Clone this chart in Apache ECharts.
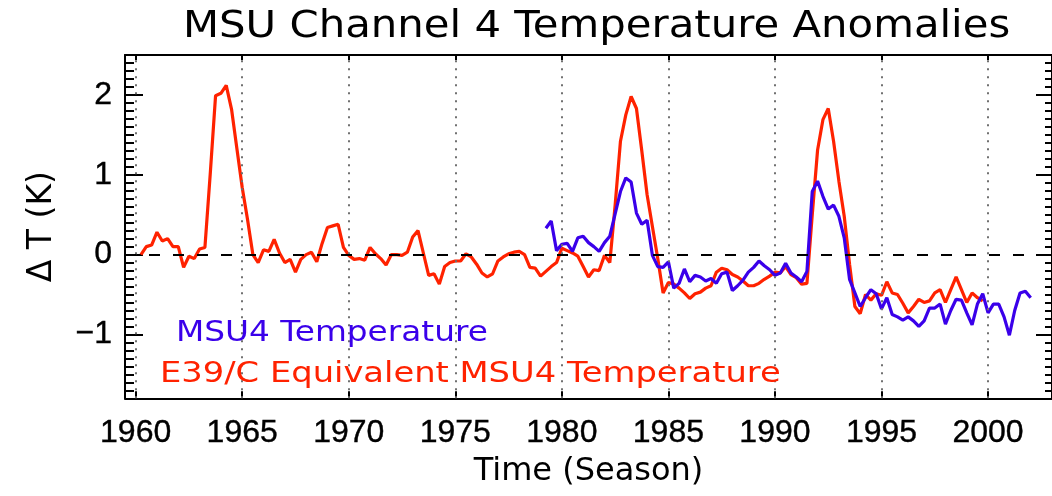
<!DOCTYPE html>
<html><head><meta charset="utf-8">
<script src="https://cdn.jsdelivr.net/npm/echarts@6/dist/echarts.min.js"></script>
<style>html,body{margin:0;padding:0;background:#fff}#c{width:1052px;height:496px}</style>
</head><body><div id="c"></div>
<script>
const redStart = 1960.25, blueStart = 1979.25, step = 0.25;
const redName = 'E39/C Equivalent MSU4 Temperature';
const blueName = 'MSU4 Temperature';
const redValues = [
  0.00, 0.10, 0.12, 0.28, 0.17, 0.20, 0.10, 0.10, -0.16, -0.02,
  -0.05, 0.07, 0.09, 1.01, 1.99, 2.02, 2.12, 1.82, 1.33, 0.84,
  0.44, 0.00, -0.10, 0.06, 0.04, 0.19, 0.02, -0.10, -0.06, -0.22,
  -0.06, 0.00, 0.03, -0.09, 0.14, 0.34, 0.36, 0.38, 0.09, -0.01,
  -0.06, -0.05, -0.07, 0.09, 0.01, -0.05, -0.13, 0.00, 0.00, -0.01,
  0.03, 0.22, 0.30, 0.02, -0.26, -0.24, -0.37, -0.15, -0.10, -0.08,
  -0.08, 0.01, -0.03, -0.12, -0.23, -0.28, -0.24, -0.08, -0.03, 0.01,
  0.03, 0.04, 0.00, -0.16, -0.17, -0.27, -0.21, -0.15, -0.10, 0.08,
  0.05, 0.02, -0.02, -0.15, -0.28, -0.19, -0.20, -0.01, -0.10, 0.62,
  1.42, 1.75, 1.98, 1.83, 1.30, 0.75, 0.35, -0.05, -0.48, -0.35,
  -0.37, -0.42, -0.48, -0.55, -0.49, -0.47, -0.42, -0.39, -0.22, -0.17,
  -0.19, -0.25, -0.28, -0.33, -0.39, -0.39, -0.36, -0.31, -0.27, -0.22,
  -0.23, -0.15, -0.25, -0.29, -0.37, -0.36, 0.50, 1.31, 1.69, 1.83,
  1.42, 0.92, 0.48, -0.12, -0.65, -0.74, -0.50, -0.57, -0.49, -0.51,
  -0.34, -0.48, -0.50, -0.61, -0.73, -0.65, -0.56, -0.60, -0.58, -0.48,
  -0.44, -0.60, -0.44, -0.28, -0.44, -0.60, -0.48, -0.54, -0.58
];
const blueValues = [
  0.33, 0.42, 0.05, 0.13, 0.14, 0.04, 0.21, 0.23, 0.15, 0.10,
  0.04, 0.15, 0.23, 0.51, 0.79, 0.96, 0.91, 0.52, 0.38, 0.43,
  -0.01, -0.15, -0.16, -0.09, -0.42, -0.36, -0.18, -0.34, -0.26, -0.28,
  -0.33, -0.30, -0.36, -0.24, -0.22, -0.45, -0.39, -0.32, -0.22, -0.16,
  -0.08, -0.14, -0.19, -0.26, -0.23, -0.11, -0.23, -0.28, -0.34, -0.21,
  0.79, 0.92, 0.73, 0.57, 0.62, 0.48, 0.21, -0.31, -0.48, -0.65,
  -0.54, -0.44, -0.49, -0.68, -0.54, -0.75, -0.78, -0.82, -0.78, -0.83,
  -0.90, -0.83, -0.67, -0.67, -0.62, -0.87, -0.70, -0.56, -0.57, -0.73,
  -0.88, -0.62, -0.49, -0.73, -0.62, -0.62, -0.78, -1.01, -0.70, -0.48,
  -0.46, -0.54
];
const xTickLabels = [1960, 1965, 1970, 1975, 1980, 1985, 1990, 1995, 2000];
const yTickLabels = [-1, 0, 1, 2];

const RED = '#ff2200', BLUE = '#3a00ea';
const X_MIN = 1959.5, X_MAX = 2003, Y_MIN = -1.8, Y_MAX = 2.5;
const NUM_FONT = 'Liberation Sans';
const TXT_FONT = 'DejaVu Sans';

const redData = redValues.map((v, i) => [redStart + step * i, v]);
const blueData = blueValues.map((v, i) => [blueStart + step * i, v]);

const axisLine = { show: true, onZero: false, lineStyle: { color: '#000', width: 2 } };
function xAx(pos, showLabel) {
  return {
    type: 'value', min: X_MIN, max: X_MAX, position: pos,
    axisLine: axisLine,
    axisTick: { show: true, inside: true, length: pos === 'bottom' ? 7 : 5, customValues: xTickLabels, lineStyle: { color: '#000', width: 2 } },
    axisLabel: { show: showLabel, customValues: xTickLabels, fontFamily: NUM_FONT, fontSize: 32, color: '#000', margin: 19,
      textBorderColor: '#000', textBorderWidth: 0.4, formatter: v => String(v) },
    splitLine: { show: false },
    name: showLabel ? 'Time (Season)' : '', nameLocation: 'middle', nameGap: 57,
    nameTextStyle: { fontFamily: TXT_FONT, fontSize: 32, color: '#000' }
  };
}
function yAx(pos, major, showLabel) {
  const o = {
    type: 'value', min: Y_MIN, max: Y_MAX, position: pos,
    axisLine: major ? axisLine : { show: false },
    axisTick: { show: true, inside: true, length: major ? (pos === 'left' ? 18 : 16) : (pos === 'left' ? 9 : 7), lineStyle: { color: '#000', width: 2 } },
    axisLabel: { show: showLabel, fontFamily: NUM_FONT, fontSize: 32, color: '#000', margin: 13,
      textBorderColor: '#000', textBorderWidth: 0.4,
      formatter: v => (v < 0 ? '\u2212' + Math.abs(v) : String(v)) },
    splitLine: { show: false }
  };
  if (major) { o.axisTick.customValues = yTickLabels; o.axisLabel.customValues = yTickLabels; }
  else { o.interval = 0.1; }
  if (showLabel) {
    o.name = 'Δ T (K)'; o.nameLocation = 'middle'; o.nameRotate = 90; o.nameGap = 66;
    o.nameTextStyle = { fontFamily: TXT_FONT, fontSize: 33, color: '#000' };
  }
  return o;
}

const chart = echarts.init(document.getElementById('c'), null, { renderer: 'canvas' });
chart.setOption({
  animation: false,
  backgroundColor: '#fff',
  grid: { left: 125, right: -1.3, top: 55, bottom: 97.7, containLabel: false },
  xAxis: [xAx('bottom', true), xAx('top', false)],
  yAxis: [yAx('left', true, true), yAx('left', false, false), yAx('right', true, false), yAx('right', false, false)],
  graphic: [
    { type: 'text', x: 183, y: 27, scaleX: 1.13, z: 10,
      style: { text: 'MSU Channel 4 Temperature Anomalies', fontFamily: TXT_FONT, fontSize: 37, fill: '#000',
        textVerticalAlign: 'middle', verticalAlign: 'middle' } },
    { type: 'text', x: 176, y: 334, scaleX: 1.17, z: 10,
      style: { text: blueName, fontFamily: TXT_FONT, fontSize: 28, fill: BLUE,
        textVerticalAlign: 'middle', verticalAlign: 'middle' } },
    { type: 'text', x: 160, y: 375, scaleX: 1.205, z: 10,
      style: { text: redName, fontFamily: TXT_FONT, fontSize: 28, fill: RED,
        textVerticalAlign: 'middle', verticalAlign: 'middle' } }
  ],
  series: [
    {
      type: 'line', data: [], z: 1, silent: true,
      markLine: {
        silent: true, symbol: ['none', 'none'], animation: false, label: { show: false },
        data: xTickLabels.map(v => ({ xAxis: v, lineStyle: { type: [2, 6], color: '#707070', width: 2 } }))
          .concat([{ yAxis: 0, lineStyle: { type: [11, 13], color: '#000', width: 2 } }])
      }
    },
    { name: redName, type: 'line', data: redData, z: 2, symbol: 'none', showSymbol: false,
      lineStyle: { color: RED, width: 3.2 }, itemStyle: { color: RED } },
    { name: blueName, type: 'line', data: blueData, z: 3, symbol: 'none', showSymbol: false,
      lineStyle: { color: BLUE, width: 3.2 }, itemStyle: { color: BLUE } }
  ]
});
</script></body></html>
